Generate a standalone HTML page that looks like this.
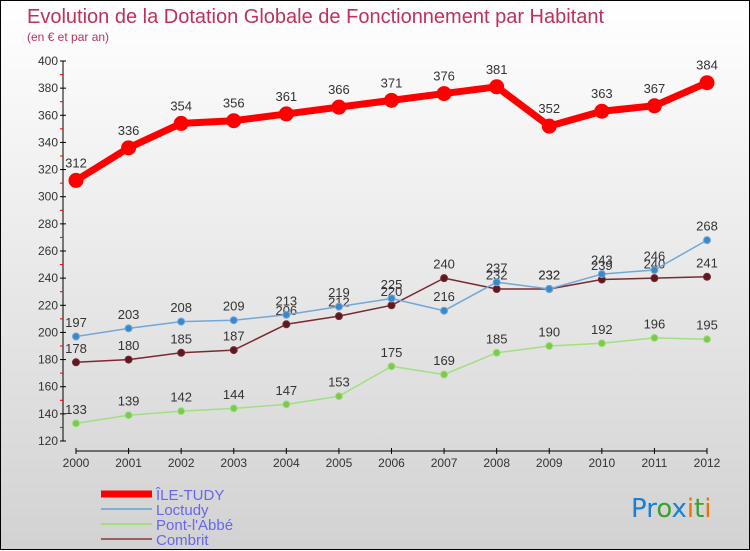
<!DOCTYPE html>
<html><head><meta charset="utf-8"><style>
body{margin:0}
#c{width:748px;height:548px;border:1px solid #000;background:linear-gradient(#fff,#d2d2d2);position:relative;font-family:"Liberation Sans","DejaVu Sans",sans-serif}
svg{position:absolute;left:0;top:0}
</style></head><body>
<div id="c">
<svg id="s" width="750" height="550">
<text x="26" y="22" font-size="20" fill="#c0305a">Evolution de la Dotation Globale de Fonctionnement par Habitant</text>
<text x="26" y="40" font-size="12" fill="#c0305a">(en € et par an)</text>
<text x="630" y="516" font-size="26" font-family="DejaVu Sans"><tspan fill="#1a7fd0">Pr</tspan><tspan fill="#3aa030">o</tspan><tspan fill="#1a7fd0">x</tspan><tspan fill="#f07000">i</tspan><tspan fill="#3aa030">t</tspan><tspan fill="#f07000">i</tspan></text>
</svg>
</div>
<script>
const years=["2000","2001","2002","2003","2004","2005","2006","2007","2008","2009","2010","2011","2012"];
const ileTudy=[312,336,354,356,361,366,371,376,381,352,363,367,384];
const loctudy=[197,203,208,209,213,219,225,216,237,232,243,246,268];
const pontLabbe=[133,139,142,144,147,153,175,169,185,190,192,196,195];
const combrit=[178,180,185,187,206,212,220,240,232,232,239,240,241];
const yTicks=[120,140,160,180,200,220,240,260,280,300,320,340,360,380,400];
const s=document.getElementById('s');const NS='http://www.w3.org/2000/svg';
function X(i){return 75+i*(706-75)/12}
function Y(v){return 440-(v-120)*(440-60)/280}
function mk(t,a,n){const e=document.createElementNS(NS,t);for(const k in a)e.setAttribute(k,a[k]);


s.appendChild(e);return e}
mk('line',{x1:62,y1:60,x2:62,y2:440,stroke:'#000'},'y-axis');
yTicks.forEach(v=>{mk('line',{x1:59,y1:Y(v),x2:65,y2:Y(v),stroke:'#000'},'y-tick');
const m=mk('line',{x1:59,y1:Y(v+10),x2:62,y2:Y(v+10),stroke:'#e00'},'y-minor-tick');if(v==400)m.remove();
const l=mk('text',{x:57,y:Y(v)+4,'font-size':12,'text-anchor':'end',fill:'#333'},'y-tick-label');l.textContent=v;});
mk('line',{x1:75,y1:450,x2:706,y2:450,stroke:'#000'},'x-axis');
years.forEach((y,i)=>{mk('line',{x1:X(i),y1:447,x2:X(i),y2:453,stroke:'#000'},'x-tick');
const l=mk('text',{x:X(i),y:466,'font-size':12,'text-anchor':'middle',fill:'#333'},'x-tick-label');l.textContent=y;});
function series(d,col,w,r,name,dot){
mk('polyline',{points:d.map((v,i)=>X(i)+','+Y(v)).join(' '),fill:'none',stroke:col,'stroke-width':w,'stroke-linejoin':'round'},name+'-line');
d.forEach((v,i)=>{mk('circle',{cx:X(i),cy:Y(v),r:r,fill:dot,stroke:col},name+'-point');
const l=mk('text',{x:X(i),y:Y(v)-(r+6),'font-size':13,'text-anchor':'middle',fill:'#333'},name+'-value');l.textContent=v;});}
series(pontLabbe,'#a0e080',1.5,3.5,'pont-labbe','#7ec850');
series(combrit,'#7a2a30',1.5,3.5,'combrit','#5a1a20');
series(loctudy,'#70a8d8',1.5,3.5,'loctudy','#3a88c8');
series(ileTudy,'#f00',7,7,'ile-tudy','#f00');
const leg=[['ÎLE-TUDY','#f00',7],['Loctudy','#80b0d8',2],["Pont-l'Abbé",'#a0e080',2],['Combrit','#9a6060',2]];
leg.forEach((e,i)=>{const y=493+i*15;mk('line',{x1:100,y1:y,x2:151,y2:y,stroke:e[1],'stroke-width':e[2]},'legend-swatch');
const t=mk('text',{x:155,y:y+6,'font-size':15,fill:'#6666ee'},'legend-entry');t.textContent=e[0];});
</script>
</body></html>
